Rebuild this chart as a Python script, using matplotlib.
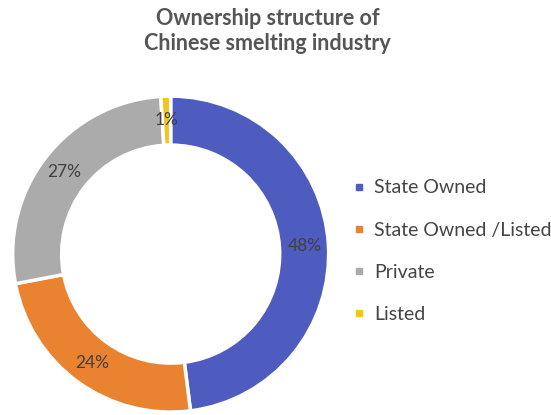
import matplotlib.pyplot as plt

# ownership shares, clockwise from 12 o'clock
categories = ['State Owned', 'State Owned /Listed', 'Private', 'Listed']
shares = [48, 24, 27, 1]
colors = ['#4f5cbf', '#ea8330', '#ababab', '#f4c61c']

plt.rcParams['font.family'] = ['Lato', 'DejaVu Sans']

fig = plt.figure(figsize=(5.51, 4.15), dpi=100)
ax = fig.add_axes([0.021, 0.007, 0.5775, 0.7614])

wedges, texts, autotexts = ax.pie(
    shares, colors=colors, startangle=90, counterclock=False,
    radius=1.0, autopct='%d%%', pctdistance=0.85,
    wedgeprops=dict(width=0.31, edgecolor='white', linewidth=2.5),
    textprops=dict(color='#404040', fontsize=12.5))
ax.set_xlim(-1, 1)
ax.set_ylim(-1, 1)
ax.set_aspect('equal')

fig.text(0.486, 0.925, 'Ownership structure of\nChinese smelting industry',
         ha='center', va='center', fontsize=15.5, fontweight='bold',
         color='#555555', linespacing=1.25)

handles = [plt.Line2D([], [], marker='s', linestyle='', markersize=5,
                      markerfacecolor=c, markeredgecolor=c) for c in colors]
fig.legend(handles, categories, loc='upper left', bbox_to_anchor=(0.61, 0.61),
           frameon=False, fontsize=14, labelcolor='#444444',
           handlelength=0.6, handletextpad=0.45, labelspacing=1.3)

fig.savefig('out.png', dpi=100)
